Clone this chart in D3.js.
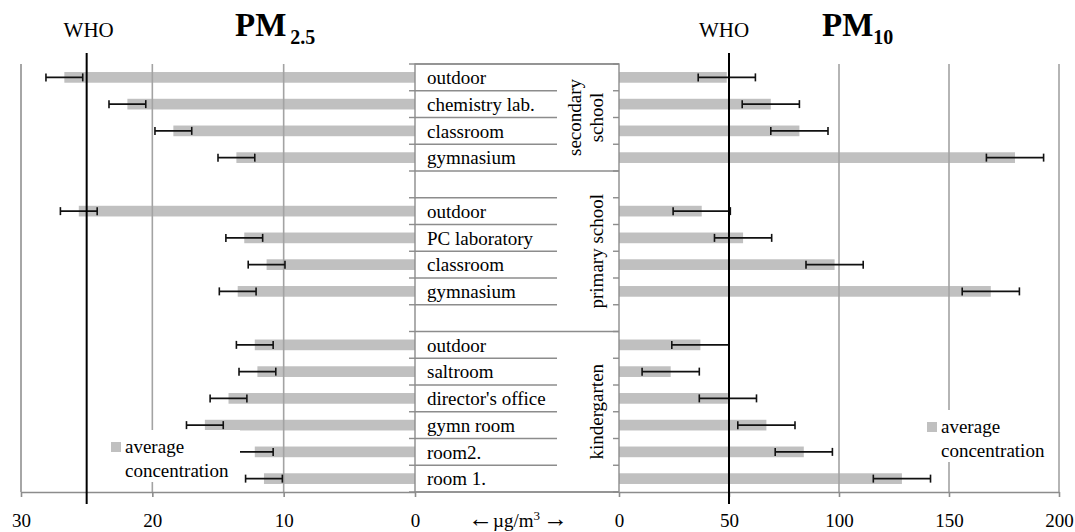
<!DOCTYPE html>
<html>
<head>
<meta charset="utf-8">
<script src="https://cdn.jsdelivr.net/npm/d3@7/dist/d3.min.js"></script>
<style>
	body { margin: 0; background: #fff; }
	svg text { font-family: 'Liberation Serif', 'Times New Roman', serif; fill: #000; }
</style>
</head>
<body>
<svg id="chart"></svg>
<script>
// rows top to bottom, null = empty spacer row
const rooms = [
	'outdoor', 'chemistry lab.', 'classroom', 'gymnasium', null,
	'outdoor', 'PC laboratory', 'classroom', 'gymnasium', null,
	'outdoor', 'saltroom', "director's office", 'gymn room', 'room2.', 'room 1.',
];
const pm25 = [26.7, 21.9, 18.4, 13.6, null, 25.6, 13.0, 11.3, 13.5, null, 12.2, 12.0, 14.2, 16.0, 12.2, 11.5];
const pm25Err = [1.4, 1.4, 1.4, 1.4, null, 1.4, 1.4, 1.4, 1.4, null, 1.4, 1.4, 1.4, 1.4, 1.4, 1.4];
const pm10 = [49, 69, 82, 180, null, 37.6, 56.4, 98, 169, null, 37, 23.5, 49.5, 67, 84, 128.6];
const pm10Err = [13, 13, 13, 13, null, 13, 13, 13, 13, null, 13, 13, 13, 13, 13, 13];

const schoolNames = [['secondary', 'school'], ['primary school'], ['kindergarten']];
const schoolFirstRow = [0, 4, 10];
const schoolLastRow = [3, 9, 15];

const pm25Ticks = [30, 20, 10, 0];
const pm10Ticks = [0, 50, 100, 150, 200];
const whoPm25 = 25;
const whoPm10 = 50;

const config = {
	width: 1075,
	height: 532,
	top: 64,
	bottom: 492,
	leftOuter: 21,
	leftZero: 415,
	rightZero: 619,
	rightOuter: 1059,
	splitX: 557,
	grid: '#a3a3a3',
	line: '#8c8c8c',
	bar: '#c0c0c0',
};

const svg = d3.select('#chart')
	.attr('width', config.width)
	.attr('height', config.height);

const yScale = d3.scaleBand()
	.domain(d3.range(rooms.length))
	.range([config.top, config.bottom]);
const bw = yScale.bandwidth();

const xLeft = d3.scaleLinear().domain([0, 30]).range([config.leftZero, config.leftOuter]);
const xRight = d3.scaleLinear().domain([0, 200]).range([config.rightZero, config.rightOuter]);

const rowData = rooms.map((r, i) => ({ i, room: r, pm25: pm25[i], e25: pm25Err[i], pm10: pm10[i], e10: pm10Err[i] }))
	.filter((d) => d.room !== null);

// bars
svg.append('g').selectAll('rect')
	.data(rowData)
	.join('rect')
	.attr('x', (d) => xLeft(d.pm25))
	.attr('y', (d) => yScale(d.i) + bw * 0.3)
	.attr('width', (d) => xLeft(0) - xLeft(d.pm25))
	.attr('height', bw * 0.4)
	.attr('fill', config.bar);

svg.append('g').selectAll('rect')
	.data(rowData)
	.join('rect')
	.attr('x', xRight(0))
	.attr('y', (d) => yScale(d.i) + bw * 0.3)
	.attr('width', (d) => xRight(d.pm10) - xRight(0))
	.attr('height', bw * 0.4)
	.attr('fill', config.bar);

// vertical gridlines
const gridG = svg.append('g')
	.attr('stroke', config.grid)
	.attr('stroke-width', 1.6);
gridG.selectAll('.gl')
	.data(pm25Ticks.filter((t) => t !== 0))
	.join('line')
	.attr('x1', (d) => xLeft(d))
	.attr('x2', (d) => xLeft(d))
	.attr('y1', config.top)
	.attr('y2', config.bottom);
gridG.selectAll('.gr')
	.data(pm10Ticks.filter((t) => t !== 0))
	.join('line')
	.attr('class', 'gr')
	.attr('x1', (d) => xRight(d))
	.attr('x2', (d) => xRight(d))
	.attr('y1', config.top)
	.attr('y2', config.bottom);

// center label box
const boxG = svg.append('g')
	.attr('stroke', config.line)
	.attr('stroke-width', 1.4)
	.attr('fill', 'none');
boxG.append('rect')
	.attr('x', config.leftZero)
	.attr('y', config.top)
	.attr('width', config.rightZero - config.leftZero)
	.attr('height', config.bottom - config.top)
	.attr('fill', '#fff');

const boundaries = d3.range(rooms.length + 1);
const groupEdges = [0, 4, 10, rooms.length];
const edgeY = (k) => (k === rooms.length ? config.bottom : yScale(k));

boxG.selectAll('.sep')
	.data(boundaries)
	.join('line')
	.attr('x1', config.leftZero)
	.attr('x2', (k) => (groupEdges.includes(k) ? config.rightZero : config.splitX))
	.attr('y1', edgeY)
	.attr('y2', edgeY);
boxG.selectAll('.tl')
	.data(boundaries)
	.join('line')
	.attr('class', 'tl')
	.attr('x1', config.leftZero - 6)
	.attr('x2', config.leftZero)
	.attr('y1', edgeY)
	.attr('y2', edgeY);
boxG.selectAll('.tr')
	.data(boundaries)
	.join('line')
	.attr('class', 'tr')
	.attr('x1', config.rightZero - 6)
	.attr('x2', config.rightZero)
	.attr('y1', edgeY)
	.attr('y2', edgeY);

// room labels
svg.append('g').selectAll('text')
	.data(rowData)
	.join('text')
	.attr('x', config.leftZero + 12)
	.attr('y', (d) => yScale(d.i) + bw / 2)
	.attr('dy', '0.35em')
	.style('font-size', '19px')
	.text((d) => d.room);

// school labels, rotated
schoolNames.forEach((lines, g) => {
	const cy = (yScale(schoolFirstRow[g]) + yScale(schoolLastRow[g]) + bw) / 2;
	lines.forEach((t, j) => {
		const bx = 603 - (lines.length - 1 - j) * 22;
		svg.append('text')
			.attr('transform', `translate(${bx},${cy}) rotate(-90)`)
			.attr('text-anchor', 'middle')
			.style('font-size', '19px')
			.text(t);
	});
});

// error bars
const drawErr = (g, scale, key, errKey) => {
	const cap = 4;
	g.selectAll('.eh')
		.data(rowData)
		.join('line')
		.attr('x1', (d) => scale(d[key] - d[errKey]))
		.attr('x2', (d) => scale(d[key] + d[errKey]))
		.attr('y1', (d) => yScale(d.i) + bw / 2)
		.attr('y2', (d) => yScale(d.i) + bw / 2);
	[-1, 1].forEach((s) => {
		g.selectAll('.ec' + (s + 1))
			.data(rowData)
			.join('line')
			.attr('class', 'ec' + (s + 1))
			.attr('x1', (d) => scale(d[key] + s * d[errKey]))
			.attr('x2', (d) => scale(d[key] + s * d[errKey]))
			.attr('y1', (d) => yScale(d.i) + bw / 2 - cap)
			.attr('y2', (d) => yScale(d.i) + bw / 2 + cap);
	});
};
drawErr(svg.append('g').attr('stroke', '#111').attr('stroke-width', 1.6), xLeft, 'pm25', 'e25');
drawErr(svg.append('g').attr('stroke', '#111').attr('stroke-width', 1.6), xRight, 'pm10', 'e10');

// bottom axes
const axisLeft = d3.axisBottom(xLeft).tickValues(pm25Ticks).tickSize(5).tickSizeOuter(0).tickPadding(17);
const axisRight = d3.axisBottom(xRight).tickValues(pm10Ticks).tickSize(5).tickSizeOuter(0).tickPadding(17);
[axisLeft, axisRight].forEach((ax) => {
	svg.append('g')
		.attr('transform', `translate(0,${config.bottom})`)
		.call(ax)
		.attr('font-family', null)
		.attr('font-size', null)
		.call((g) => g.selectAll('line, path').attr('stroke', config.line).attr('stroke-width', 1.6))
		.selectAll('text')
		.style('font-size', '19px');
});
svg.append('line')
	.attr('x1', config.leftOuter)
	.attr('x2', config.leftOuter)
	.attr('y1', config.top)
	.attr('y2', config.bottom)
	.attr('stroke', config.grid)
	.attr('stroke-width', 1.6);

const unit = svg.append('text')
	.attr('x', (config.leftZero + config.rightZero) / 2 + 1)
	.attr('y', 527)
	.attr('text-anchor', 'middle')
	.style('font-size', '19px');
unit.append('tspan').style('font-size', '25px').text('\u2190');
unit.append('tspan').text('\u00b5g/m');
unit.append('tspan').attr('dy', -7).style('font-size', '13px').text('3');
unit.append('tspan').attr('dy', 7).attr('dx', 3).style('font-size', '25px').text('\u2192');

// legends
const legend = (x, y) => {
	const g = svg.append('g').attr('transform', `translate(${x},${y})`);
	g.append('rect').attr('x', -5).attr('y', -12).attr('width', 134).attr('height', 52).attr('fill', '#fff');
	g.append('rect').attr('x', 0).attr('y', 0).attr('width', 10).attr('height', 10).attr('fill', config.bar);
	g.append('text').attr('x', 14).attr('y', 11).style('font-size', '19px').text('average');
	g.append('text').attr('x', 14).attr('y', 35).style('font-size', '19px').text('concentration');
};
legend(111, 442);
legend(927, 422);

// WHO limit lines
svg.append('g')
	.selectAll('line')
	.data([xLeft(whoPm25), xRight(whoPm10)])
	.join('line')
	.attr('x1', (d) => d)
	.attr('x2', (d) => d)
	.attr('y1', 53)
	.attr('y2', 504)
	.attr('stroke', '#000')
	.attr('stroke-width', 2);

// titles
svg.append('text').attr('x', xLeft(whoPm25) + 2).attr('y', 37).attr('text-anchor', 'middle').style('font-size', '21px').text('WHO');
svg.append('text').attr('x', xRight(whoPm10) - 5).attr('y', 37).attr('text-anchor', 'middle').style('font-size', '21px').text('WHO');

const t25 = svg.append('text').attr('x', 235).attr('y', 36).style('font-weight', 'bold').style('font-size', '33px');
t25.append('tspan').text('PM');
t25.append('tspan').attr('dx', 4).attr('dy', 8).style('font-size', '20px').text('2.5');

const t10 = svg.append('text').attr('x', 822).attr('y', 36).style('font-weight', 'bold').style('font-size', '33px');
t10.append('tspan').text('PM');
t10.append('tspan').attr('dy', 8).style('font-size', '20px').text('10');
</script>
</body>
</html>
